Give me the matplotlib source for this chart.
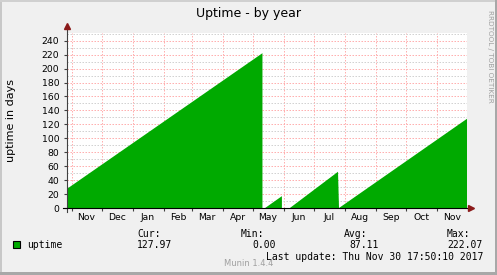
import matplotlib
matplotlib.use("Agg")
import matplotlib.pyplot as plt
from matplotlib.patches import Rectangle
from matplotlib.ticker import MultipleLocator
import numpy as np

# uptime vertices (days); NaN = no data
dates = np.array([
    "2016-10-27T12:00", "2017-05-10T14:00",
    "2017-05-12T00:00",
    "2017-05-13T06:00", "2017-05-30T00:00",
    "2017-06-03T00:00",
    "2017-06-07T00:00", "2017-07-25T00:00",
    "2017-07-26T00:00", "2017-11-30T17:50",
], dtype="datetime64[m]")
uptime = [27.5, 222.07, np.nan, 0, 17, np.nan, 0, 52, 0, 127.97]

x_start = np.datetime64("2016-10-27T12:00")
x_end = np.datetime64("2017-11-30T17:50")
month_starts = np.arange(np.datetime64("2016-11"), np.datetime64("2017-12"),
                         dtype="datetime64[M]").astype("datetime64[m]")
month_mid = month_starts + np.timedelta64(15, "D")
month_labels = ["Nov", "Dec", "Jan", "Feb", "Mar", "Apr", "May",
                "Jun", "Jul", "Aug", "Sep", "Oct", "Nov"]

stats_head = ["Cur:", "Min:", "Avg:", "Max:"]
stats_vals = ["127.97", "0.00", "87.11", "222.07"]

W, H = 497, 275
bg = "#F0F0F0"
green = "#00AA00"

fig = plt.figure(figsize=(W / 100, H / 100), dpi=100, facecolor=bg)
ax = fig.add_axes([67 / W, (H - 208) / H, 400 / W, 175 / H])
ax.set_facecolor("white")

ax.fill_between(dates, 0, uptime, color=green, linewidth=0, zorder=2)

ax.set_xlim(x_start, x_end)
ax.set_ylim(0, 251)

# grid
ax.yaxis.set_major_locator(MultipleLocator(20))
ax.yaxis.set_minor_locator(MultipleLocator(10))
ax.set_xticks(month_starts)
ax.set_xticks(month_mid, minor=True)
ax.set_xticklabels([""] * len(month_starts))
ax.set_xticklabels(month_labels, minor=True)
ax.set_axisbelow(True)
ax.grid(which="major", axis="both", color="#FFB0B0", linestyle=(0, (1.5, 1.5)), linewidth=0.72)
ax.grid(which="minor", axis="y", color="#D2D2D2", linestyle=(0, (1.5, 1.5)), linewidth=0.72)

ax.tick_params(axis="y", which="major", length=2, pad=3.5, labelsize=6.7, color="#404040")
ax.tick_params(axis="y", which="minor", length=0)
ax.tick_params(axis="x", which="major", length=2, color="#404040")
ax.tick_params(axis="x", which="minor", length=0, pad=3.5, labelsize=6.7)

for s in ax.spines.values():
    s.set_visible(False)

# axis lines with arrows
ax.plot([0, 0], [-4 / 175, 1.03], color="#404040", lw=0.8, transform=ax.transAxes, clip_on=False, zorder=5)
ax.plot([-4 / 400, 1.0075], [0, 0], color="black", lw=0.8, transform=ax.transAxes, clip_on=False, zorder=5)
ax.plot([0], [182 / 175], marker="^", ms=4.5, color="#8B1A1A", transform=ax.transAxes, clip_on=False, zorder=6)
ax.plot([404 / 400], [0], marker=">", ms=4.5, color="#8B1A1A", transform=ax.transAxes, clip_on=False, zorder=6)

ax.set_ylabel("uptime in days", fontsize=8)
ax.yaxis.set_label_coords(-51 / 400, 0.5)

def fx(px):
    return px / W

def fy(py):
    return 1 - py / H

fig.text(fx(248.5), fy(14), "Uptime - by year", ha="center", va="center", fontsize=9)
fig.text(fx(490), fy(56), "RRDTOOL / TOBI OETIKER", ha="center", va="center",
         rotation=-90, fontsize=5.2, color="#A0A0A0")

mono = "DejaVu Sans Mono"
fig.add_artist(Rectangle((fx(13), fy(248)), 7 / W, 7 / H, facecolor=green,
                         edgecolor="black", linewidth=0.8, transform=fig.transFigure))
fig.text(fx(27), fy(245.5), "uptime", ha="left", va="center", family=mono, fontsize=7)

head_x = [137, 241, 344, 447]
val_x = [(137, "left"), (276, "right"), (379, "right"), (483, "right")]
for hx, h, (vx, ha), v in zip(head_x, stats_head, val_x, stats_vals):
    fig.text(fx(hx), fy(234), h, ha="left", va="center", family=mono, fontsize=7)
    fig.text(fx(vx), fy(245.5), v, ha=ha, va="center", family=mono, fontsize=7)

fig.text(fx(483), fy(257.3), "Last update: Thu Nov 30 17:50:10 2017", ha="right",
         va="center", family=mono, fontsize=7)
fig.text(fx(248.5), fy(264), "Munin 1.4.4", ha="center", va="center", fontsize=6, color="#A0A0A0")

# frame
fig.add_artist(Rectangle((0, 0), 2 / W, 1, facecolor="#C8C8C8", edgecolor="none", transform=fig.transFigure))
fig.add_artist(Rectangle((0, 1 - 2 / H), 1, 2 / H, facecolor="#D0D0D0", edgecolor="none", transform=fig.transFigure))
fig.add_artist(Rectangle((1 - 2 / W, 0), 2 / W, 1, facecolor="#A8A8A8", edgecolor="none", transform=fig.transFigure))
fig.add_artist(Rectangle((0, 0), 1, 3 / H, facecolor="#A8A8A8", edgecolor="none", transform=fig.transFigure))

fig.savefig("out.png", dpi=100, facecolor=bg)
